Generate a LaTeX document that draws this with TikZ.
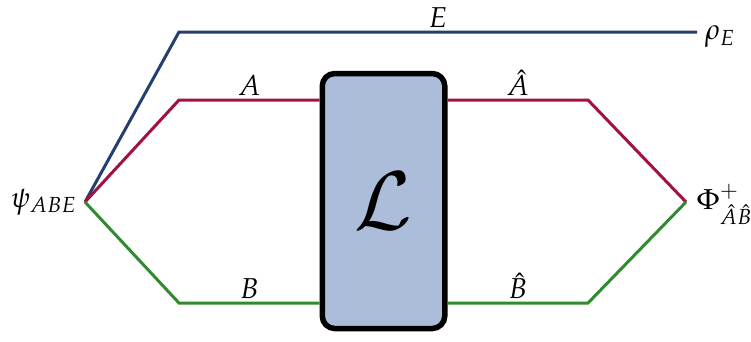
\documentclass[tikz,border=0pt]{standalone}
\usepackage{mathpazo}
\usepackage{xcolor}
\usepackage{tikz}
\usetikzlibrary{positioning}
\definecolor{envblue}{HTML}{243F6E}
\definecolor{sysred}{HTML}{A3123F}
\definecolor{sysgreen}{HTML}{2E8B2E}
\definecolor{chanfill}{HTML}{ABBDD8}

\begin{document}
\begin{tikzpicture}[
  x=0.4pt, y=-0.4pt,
  font=\fontsize{11.5}{13}\selectfont,
  wire/.style={line width=1.2pt},
  chan/.style={rectangle, rounded corners=5pt, draw=black, line width=2.2pt, fill=chanfill, minimum width=49pt, minimum height=102pt, inner sep=0pt},
  lbl/.style={inner sep=1pt, text=black}
]
\useasboundingbox (0,0) rectangle (751,341);
\node[chan] (channel) at (383.5,201) {\fontsize{32}{34}\selectfont$\mathcal{L}$};
\coordinate (src) at (85,202);
\coordinate (snk) at (686,202);
\coordinate (eup) at (179,32);
\coordinate (aup) at (179,100);
\coordinate (bdn) at (179,303);
\coordinate (ahat) at (588,100);
\coordinate (bhat) at (588,303);
\coordinate (eend) at (697,32);

\node[lbl, left=2pt of src] (psi) {$\psi_{ABE}$};
\node[lbl, right=3pt of snk, yshift=-1pt] (phi) {$\Phi^{+}_{\hat{A}\hat{B}}$};
\node[lbl, right=2pt of eend, yshift=-2pt] (rho) {$\rho_E$};

\draw[wire, envblue] (src) -- (eup) -- node[above, lbl]{$E$} (eend);
\draw[wire, sysred] (src) -- (aup) -- node[above, lbl]{$A$} (channel.west |- aup);
\draw[wire, sysgreen] (src) -- (bdn) -- node[above, lbl]{$B$} (channel.west |- bdn);
\draw[wire, sysred] (channel.east |- ahat) -- node[above, lbl]{$\hat{A}$} (ahat) -- (snk);
\draw[wire, sysgreen] (channel.east |- bhat) -- node[above, lbl]{$\hat{B}$} (bhat) -- (snk);
\end{tikzpicture}
\end{document}
